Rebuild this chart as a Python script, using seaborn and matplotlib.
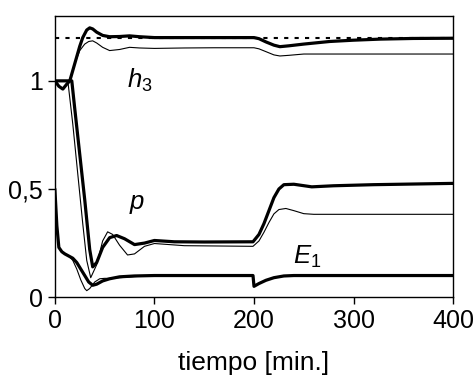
import numpy as np
import pandas as pd
import seaborn as sns
import matplotlib.pyplot as plt

# h3 (thick = set point tracking, thin = reference run)
t_h3 = [0, 4, 8, 12, 15, 20, 25, 28, 32, 35, 38, 42, 48, 55, 65, 75, 85, 100, 130, 160, 190, 200,
        205, 212, 220, 226, 235, 250, 276, 300, 327, 360, 400]
h3_thick = [1.0, 0.975, 0.962, 0.985, 1.0, 1.08, 1.16, 1.2, 1.235, 1.245, 1.24, 1.225, 1.21, 1.204, 1.205,
            1.208, 1.204, 1.2, 1.2, 1.2, 1.2, 1.2,
            1.195, 1.18, 1.165, 1.158, 1.162, 1.17, 1.182, 1.188, 1.193, 1.196, 1.197]
t_h3_thin = [0, 4, 8, 12, 15, 20, 25, 30, 34, 38, 42, 48, 55, 65, 75, 85, 100, 130, 160, 190, 200,
             205, 212, 220, 226, 235, 250, 276, 300, 350, 400]
h3_thin = [1.0, 0.975, 0.962, 0.985, 1.0, 1.08, 1.14, 1.17, 1.182, 1.185, 1.175, 1.155, 1.14, 1.145, 1.155,
           1.152, 1.15, 1.152, 1.153, 1.153, 1.153,
           1.148, 1.135, 1.12, 1.115, 1.118, 1.124, 1.124, 1.124, 1.124, 1.124]

# p
t_p = [0, 10, 17, 20, 25, 30, 35, 38, 42, 48, 55, 62, 70, 80, 90, 100, 120, 150, 199,
       205, 210, 215, 220, 225, 230, 240, 258, 280, 320, 400]
p_thick = [1.0, 1.0, 1.0, 0.87, 0.66, 0.45, 0.22, 0.14, 0.16, 0.23, 0.275, 0.285, 0.27, 0.243, 0.25,
           0.262, 0.256, 0.255, 0.256,
           0.29, 0.34, 0.4, 0.46, 0.5, 0.52, 0.522, 0.51, 0.515, 0.52, 0.526]
t_p_thin = [0, 10, 13, 18, 23, 28, 32, 36, 42, 48, 53, 58, 65, 73, 80, 90, 100, 130, 199,
            205, 210, 215, 220, 225, 232, 240, 250, 260, 300, 400]
p_thin = [1.0, 1.0, 1.0, 0.8, 0.57, 0.34, 0.17, 0.09, 0.15, 0.26, 0.302, 0.29, 0.24, 0.195, 0.2,
          0.235, 0.248, 0.238, 0.235,
          0.26, 0.3, 0.345, 0.385, 0.405, 0.41, 0.4, 0.386, 0.383, 0.383, 0.383]

# E1
t_e = [0, 2, 4, 7, 10, 14, 18, 22, 26, 30, 34, 38, 42, 48, 55, 65, 80, 100, 150, 199,
       200, 205, 212, 220, 230, 240, 300, 400]
e_thick = [0.5, 0.33, 0.23, 0.21, 0.2, 0.19, 0.18, 0.16, 0.13, 0.1, 0.07, 0.055, 0.06, 0.075, 0.085,
           0.094, 0.098, 0.1, 0.1, 0.1,
           0.05, 0.063, 0.078, 0.09, 0.098, 0.1, 0.1, 0.1]
t_e_thin = [0, 2, 4, 7, 10, 14, 18, 22, 26, 30, 32, 35, 40, 45, 50, 55, 65, 80, 100, 150, 199,
            200, 205, 212, 220, 230, 240, 300, 400]
e_thin = [0.5, 0.33, 0.23, 0.21, 0.2, 0.19, 0.17, 0.13, 0.08, 0.04, 0.03, 0.04, 0.07, 0.085, 0.087,
          0.087, 0.09, 0.095, 0.1, 0.1, 0.1,
          0.05, 0.063, 0.078, 0.09, 0.098, 0.1, 0.1, 0.1]

h3_ref = 1.2

sns.set_style('ticks')
plt.rcParams['font.family'] = ['Liberation Sans Narrow', 'Liberation Sans', 'DejaVu Sans']
plt.rcParams['mathtext.fontset'] = 'custom'
plt.rcParams['mathtext.it'] = 'Liberation Sans:italic'
plt.rcParams['mathtext.rm'] = 'Liberation Sans'
plt.rcParams['text.color'] = 'k'
plt.rcParams['axes.labelcolor'] = 'k'

fig = plt.figure(figsize=(4.73, 3.80), dpi=100)
ax = fig.add_axes([0.116, 0.218, 0.842, 0.74])

ax.axhline(h3_ref, color='k', lw=1.5, ls=(0, (2, 3)))
for tt, yy in [(t_h3_thin, h3_thin), (t_p_thin, p_thin), (t_e_thin, e_thin)]:
    sns.lineplot(x=tt, y=yy, ax=ax, color='k', lw=0.8)
for tt, yy in [(t_h3, h3_thick), (t_p, p_thick), (t_e, e_thick)]:
    sns.lineplot(x=tt, y=yy, ax=ax, color='k', lw=2.3)

ax.set_xlim(0, 400)
ax.set_ylim(0, 1.3)
ax.set_xticks([0, 100, 200, 300, 400])
ax.set_yticks([0, 0.5, 1])
ax.set_yticklabels(['0', '0,5', '1'])
ax.tick_params(direction='out', length=5, width=1, labelsize=18, colors='k')
for s in ax.spines.values():
    s.set_visible(True)
    s.set_color('k')
    s.set_linewidth(1)
ax.set_xlabel('tiempo [min.]', fontsize=19, labelpad=13)
ax.set_ylabel('')

ax.text(85, 1.0, '$h_3$', fontsize=18.5, ha='center', va='center')
ax.text(83, 0.43, '$p$', fontsize=18.5, ha='center', va='center')
ax.text(253, 0.185, '$E_1$', fontsize=18.5, ha='center', va='center')

fig.savefig('out.png', dpi=100)
